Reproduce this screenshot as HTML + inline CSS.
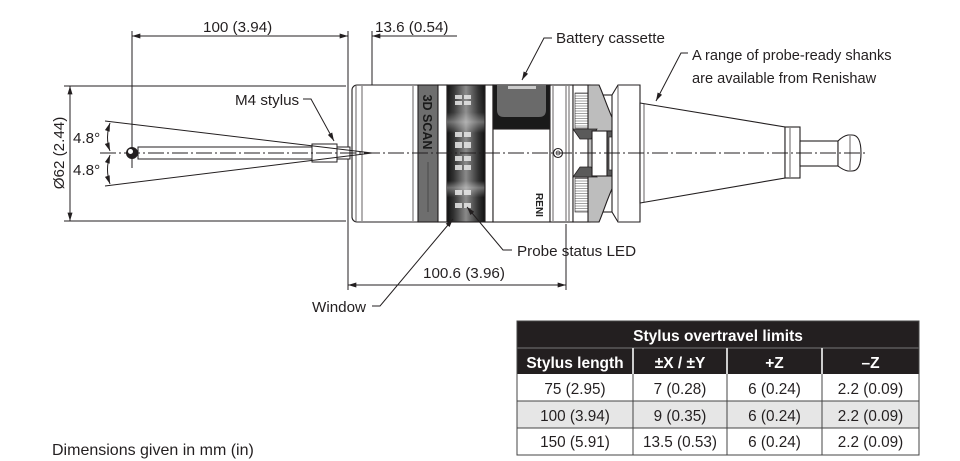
<!DOCTYPE html>
<html><head><meta charset="utf-8"><style>
html,body{margin:0;padding:0;background:#fff;}
svg{display:block;}
text{font-family:"Liberation Sans",Arial,sans-serif;fill:#231f20;}
</style></head><body>
<svg width="960" height="461" viewBox="0 0 960 461" xmlns="http://www.w3.org/2000/svg">
<defs>
<marker id="ar" viewBox="0 0 10 6" refX="10" refY="3" markerWidth="9" markerHeight="5" orient="auto-start-reverse" markerUnits="userSpaceOnUse"><path d="M0,0 L10,3 L0,6 z" fill="#231f20"/></marker>
<linearGradient id="win" x1="0" x2="1" y1="0" y2="0">
<stop offset="0" stop-color="#111"/><stop offset="0.18" stop-color="#333"/><stop offset="0.5" stop-color="#8a8a8a"/><stop offset="0.82" stop-color="#333"/><stop offset="1" stop-color="#111"/>
</linearGradient>
<linearGradient id="winv" x1="0" x2="0" y1="0" y2="1">
<stop offset="0" stop-color="#fff" stop-opacity="0"/><stop offset="0.2" stop-color="#fff" stop-opacity="0.05"/><stop offset="0.27" stop-color="#fff" stop-opacity="0.35"/><stop offset="0.35" stop-color="#fff" stop-opacity="0"/><stop offset="0.7" stop-color="#fff" stop-opacity="0"/><stop offset="0.75" stop-color="#fff" stop-opacity="0.35"/><stop offset="0.82" stop-color="#fff" stop-opacity="0"/><stop offset="1" stop-color="#fff" stop-opacity="0"/>
</linearGradient>
<pattern id="hatch" width="4" height="2.5" patternUnits="userSpaceOnUse"><rect width="4" height="2.5" fill="#fff"/><line x1="0" y1="1" x2="4" y2="1" stroke="#888" stroke-width="0.8"/></pattern>
</defs>

<g stroke="#231f20" stroke-width="1" fill="none">
<!-- dimension 100 -->
<line x1="132" y1="31" x2="132" y2="168"/>
<line x1="348" y1="31" x2="348" y2="290"/>
<line x1="132" y1="36" x2="348" y2="36" marker-start="url(#ar)" marker-end="url(#ar)"/>
<!-- 13.6 -->
<line x1="372" y1="31" x2="372" y2="153"/>
<line x1="372" y1="36" x2="457" y2="36" marker-start="url(#ar)"/>
<!-- diameter -->
<line x1="64" y1="86" x2="346" y2="86"/>
<line x1="64" y1="221" x2="346" y2="221"/>
<line x1="70" y1="86" x2="70" y2="221" marker-start="url(#ar)" marker-end="url(#ar)"/>
</g>

<!-- body -->
<g stroke="#231f20" stroke-width="1.1">
<rect x="352" y="85" width="70" height="137" rx="5" fill="#fff"/>
<line x1="356" y1="86" x2="356" y2="221" stroke-width="0.7"/>
<line x1="362" y1="86" x2="362" y2="221" stroke-width="0.7"/>
<line x1="413" y1="86" x2="413" y2="221" stroke-width="0.7"/>
<rect x="418" y="85" width="20" height="137" fill="#6e6e6e"/>
<rect x="438" y="85" width="9" height="137" fill="#fff"/>
<rect x="447" y="85" width="38" height="137" fill="url(#win)"/>
<rect x="447" y="85" width="38" height="137" fill="url(#winv)" stroke="none"/>
<rect x="485" y="85" width="8" height="137" fill="#fff"/>
<rect x="493" y="85" width="57" height="137" fill="#fff"/>
<rect x="493" y="85" width="57" height="44" fill="#1a1a1a"/>
<path d="M497,85 L546,85 L546,110 Q546,117 539,117 L504,117 Q497,117 497,110 Z" fill="#6a6a6a" stroke="none"/>
<rect x="508" y="86" width="28" height="3" fill="#ccc" stroke="none"/>
<rect x="550" y="85" width="23" height="137" fill="#fff"/>
<line x1="553" y1="86" x2="553" y2="221" stroke-width="0.7"/>
<line x1="566" y1="86" x2="566" y2="221" stroke-width="0.7"/>
<line x1="569" y1="86" x2="569" y2="221" stroke-width="0.7"/>
<circle cx="558" cy="153" r="4.5" fill="#fff"/>
<circle cx="558" cy="153" r="2" fill="#fff" stroke-width="0.7"/>
<rect x="573" y="85" width="17" height="137" fill="#fff"/>
<rect x="575" y="93" width="13" height="35" fill="url(#hatch)" stroke-width="0.6"/>
<rect x="575" y="178" width="13" height="34" fill="url(#hatch)" stroke-width="0.6"/>
<!-- neck -->
<rect x="599" y="95" width="14" height="117" fill="#fff"/>
<!-- gray curve -->
<path d="M588,85 L599,85 C606,100 612,126 633,153 C612,180 606,206 599,222 L588,222 Z" fill="#bdbdbd"/>
<path d="M573,129 L597,129 L591,139 L580,139 Z" fill="#5a5a5a" stroke-width="0.8"/>
<path d="M573,177 L597,177 L591,167 L580,167 Z" fill="#5a5a5a" stroke-width="0.8"/>
<rect x="592" y="131" width="20" height="45" fill="#fff"/>
<path d="M607,131 L618,131 L633,153 L618,176 L607,176 Z" fill="#5a5a5a"/>
<rect x="609" y="137" width="6" height="33" fill="#fff" stroke-width="0.7"/>
<!-- flange -->
<path d="M612,95 L618,85 L640,85 L640,222 L618,222 L612,212 Z" fill="#fff"/>
<line x1="618" y1="86" x2="618" y2="221" stroke-width="0.7"/>
<!-- taper -->
<path d="M640,103 L785,127 L785,178 L640,203 Z" fill="#fff"/>
<line x1="644" y1="104" x2="644" y2="202" stroke-width="0.7"/>
<rect x="785" y="127" width="15" height="51" fill="#fff"/>
<line x1="790" y1="128" x2="790" y2="177" stroke-width="0.7"/>
<rect x="800" y="141" width="38" height="25" fill="#fff"/>
<path d="M838,141 Q843,136 848,135 L852,135 Q861,135 861,153 Q861,171 852,171 L848,171 Q843,170 838,166 Z" fill="#fff"/>
<line x1="850" y1="136" x2="850" y2="170" stroke-width="0.7"/>
</g>

<!-- window squares -->
<g fill="#e8e8e8" opacity="0.85">
<rect x="455" y="95" width="7" height="4"/><rect x="464" y="95" width="7" height="4"/>
<rect x="455" y="101" width="7" height="4"/><rect x="464" y="101" width="7" height="4"/>
<rect x="455" y="132" width="7" height="5"/><rect x="464" y="132" width="7" height="5"/>
<rect x="455" y="142" width="7" height="6"/><rect x="464" y="142" width="7" height="6"/>
<rect x="455" y="156" width="7" height="5"/><rect x="464" y="156" width="7" height="5"/>
<rect x="455" y="165" width="7" height="5"/><rect x="464" y="165" width="7" height="5"/>
<rect x="455" y="190" width="7" height="5"/><rect x="464" y="190" width="7" height="5"/>
<rect x="455" y="203" width="7" height="5"/><rect x="464" y="203" width="7" height="5"/>
</g>

<text transform="translate(423,122) rotate(90)" text-anchor="middle" font-size="12.5" font-weight="bold" style="fill:#1a1a1a">3D SCAN</text>
<line x1="428" y1="162" x2="428" y2="212" stroke="#333" stroke-width="0.6"/>
<text transform="translate(536,205) rotate(90)" text-anchor="middle" font-size="10" font-weight="bold" style="fill:#222">RENI</text>

<!-- stylus -->
<g stroke="#231f20" stroke-width="1" fill="#fff">
<rect x="138" y="147" width="174" height="12"/>
<rect x="312" y="144" width="25" height="18"/>
<rect x="337" y="147" width="13" height="12"/>
</g>
<g stroke="#231f20" stroke-width="1" fill="none">
<line x1="105" y1="121" x2="372" y2="153"/>
<line x1="105" y1="186" x2="372" y2="153"/>
<path d="M110,123 Q105,137.5 110,151" marker-start="url(#ar)" marker-end="url(#ar)"/>
<path d="M110,155 Q105,169.5 110,184" marker-start="url(#ar)" marker-end="url(#ar)"/>
<line x1="100" y1="153" x2="868" y2="153" stroke-dasharray="16 3 2 3" stroke-width="0.9"/>
</g>
<circle cx="132" cy="153" r="6" fill="#231f20"/>
<circle cx="130.5" cy="151.5" r="2.5" fill="#fff"/>

<!-- leaders -->
<g stroke="#231f20" stroke-width="1" fill="none">
<path d="M303,99 L311,99 L334,141" marker-end="url(#ar)"/>
<path d="M552,38 L544,38 L522,80" marker-end="url(#ar)"/>
<path d="M688,53 L681,53 L656,101" marker-end="url(#ar)"/>
<path d="M512,250 L503,250 L467,207" marker-end="url(#ar)"/>
<path d="M372,306 L380,306 L453,219" marker-end="url(#ar)"/>
<line x1="566" y1="224" x2="566" y2="290"/>
<line x1="348" y1="285" x2="566" y2="285" marker-start="url(#ar)" marker-end="url(#ar)"/>
</g>

<!-- labels -->
<g font-size="15.2">
<text x="203" y="32">100 (3.94)</text>
<text x="375" y="32">13.6 (0.54)</text>
<text x="235" y="105">M4 stylus</text>
<text x="73" y="143">4.8°</text>
<text x="73" y="175">4.8°</text>
<text transform="translate(64,153) rotate(-90)" text-anchor="middle">Ø62 (2.44)</text>
<text x="556" y="43">Battery cassette</text>
<text x="692" y="60" font-size="14.6">A range of probe-ready shanks</text>
<text x="692" y="83" font-size="14.6">are available from Renishaw</text>
<text x="517" y="256">Probe status LED</text>
<text x="423" y="278">100.6 (3.96)</text>
<text x="312" y="312">Window</text>
<text x="52" y="455" font-size="16">Dimensions given in mm (in)</text>
</g>

<!-- table -->
<g>
<rect x="517" y="321" width="402" height="53" fill="#231f20"/>
<line x1="517" y1="348" x2="919" y2="348" stroke="#777" stroke-width="1"/>
<rect x="632" y="348" width="2" height="26" fill="#ccc"/>
<rect x="726" y="348" width="2" height="26" fill="#ccc"/>
<rect x="821" y="348" width="2" height="26" fill="#ccc"/>
<rect x="517" y="374" width="402" height="27" fill="#fff"/>
<rect x="517" y="401" width="402" height="27" fill="#e6e6e6"/>
<rect x="517" y="428" width="402" height="27" fill="#fff"/>
<g stroke="#444" stroke-width="1">
<line x1="517" y1="401" x2="919" y2="401"/>
<line x1="517" y1="428" x2="919" y2="428"/>
<line x1="633" y1="374" x2="633" y2="455"/>
<line x1="727" y1="374" x2="727" y2="455"/>
<line x1="822" y1="374" x2="822" y2="455"/>
<rect x="517" y="321" width="402" height="134" fill="none"/>
</g>
<g font-size="15.5" font-weight="bold" text-anchor="middle" style="fill:#fff">
<text x="718" y="341" style="fill:#fff">Stylus overtravel limits</text>
<text x="575" y="368" style="fill:#fff">Stylus length</text>
<text x="680" y="368" style="fill:#fff">±X / ±Y</text>
<text x="774.5" y="368" style="fill:#fff">+Z</text>
<text x="870.5" y="368" style="fill:#fff">–Z</text>
</g>
<g font-size="15.3" text-anchor="middle">
<text x="575" y="394">75 (2.95)</text>
<text x="680" y="394">7 (0.28)</text>
<text x="774.5" y="394">6 (0.24)</text>
<text x="870.5" y="394">2.2 (0.09)</text>
<text x="575" y="421">100 (3.94)</text>
<text x="680" y="421">9 (0.35)</text>
<text x="774.5" y="421">6 (0.24)</text>
<text x="870.5" y="421">2.2 (0.09)</text>
<text x="575" y="447">150 (5.91)</text>
<text x="680" y="447">13.5 (0.53)</text>
<text x="774.5" y="447">6 (0.24)</text>
<text x="870.5" y="447">2.2 (0.09)</text>
</g>
</g>
</svg>
</body></html>
